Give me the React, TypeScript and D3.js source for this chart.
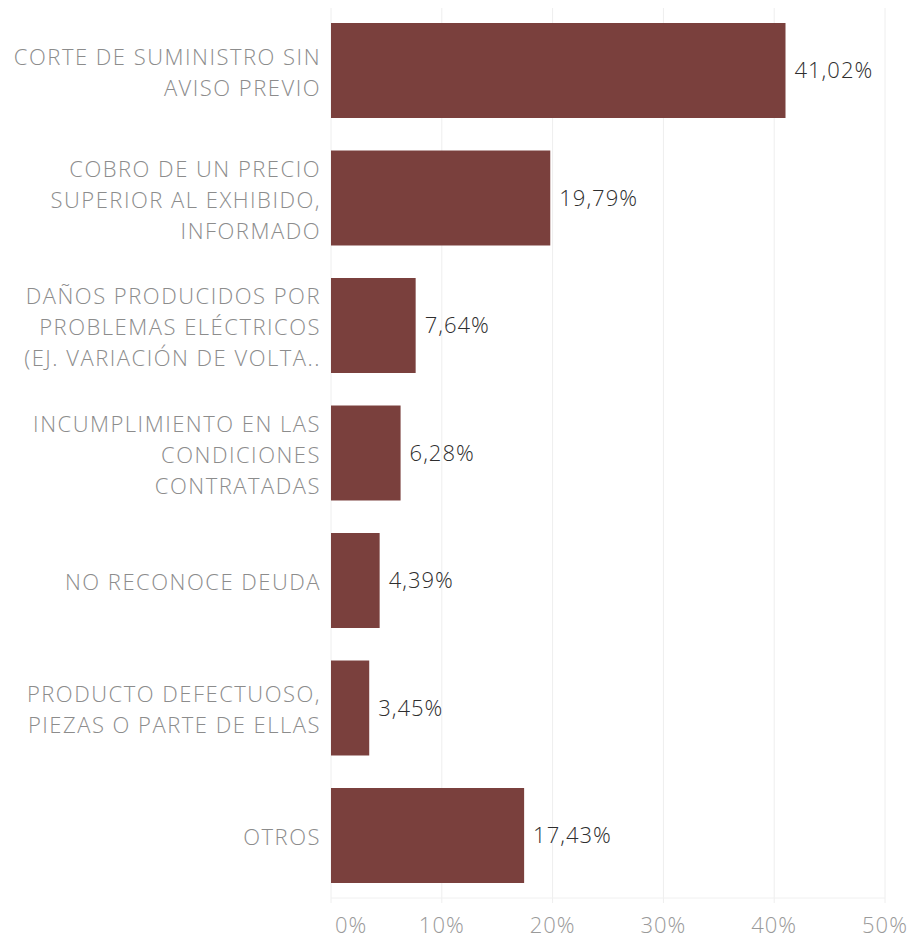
import React, { useEffect, useRef } from 'react';
import * as d3 from 'd3';

// category labels, already broken into the lines shown in the chart
const categories = [
  ['CORTE DE SUMINISTRO SIN', 'AVISO PREVIO'],
  ['COBRO DE UN PRECIO', 'SUPERIOR AL EXHIBIDO,', 'INFORMADO'],
  ['DAÑOS PRODUCIDOS POR', 'PROBLEMAS ELÉCTRICOS', '(EJ. VARIACIÓN DE VOLTA..'],
  ['INCUMPLIMIENTO EN LAS', 'CONDICIONES', 'CONTRATADAS'],
  ['NO RECONOCE DEUDA'],
  ['PRODUCTO DEFECTUOSO,', 'PIEZAS O PARTE DE ELLAS'],
  ['OTROS'],
];
const values = [0.4102, 0.1979, 0.0764, 0.0628, 0.0439, 0.0345, 0.1743];
const ticks = [0, 0.1, 0.2, 0.3, 0.4, 0.5];

const App: React.FC = () => {
  const svgRef = useRef<SVGSVGElement>(null);

  useEffect(() => {
    if (!svgRef.current) return;
    const width = 913;
    const height = 940;
    const font = '"Open Sans", sans-serif';

    const svg = d3.select(svgRef.current)
      .attr('width', width)
      .attr('height', height)
      .html('');

    const keys = categories.map((_, i) => String(i));

    const x = d3.scaleLinear().domain([0, 0.5]).range([331, 885]);
    const y = d3.scaleBand()
      .domain(keys)
      .range([6.75, 899.25])
      .paddingInner(0.255)
      .paddingOuter(0.1275);

    const fmt = (v: number) => (v * 100).toFixed(2).replace('.', ',') + '%';

    // gridlines
    svg.append('g')
      .selectAll('line')
      .data(ticks)
      .join('line')
      .attr('x1', d => x(d))
      .attr('x2', d => x(d))
      .attr('y1', 8)
      .attr('y2', 903)
      .style('stroke', '#eeeeee')
      .style('stroke-width', 1);

    svg.append('line')
      .attr('x1', x(0))
      .attr('x2', x(0.5))
      .attr('y1', 898)
      .attr('y2', 898)
      .style('stroke', '#f0f0f0');

    // bars
    svg.append('g')
      .selectAll('rect')
      .data(values)
      .join('rect')
      .attr('x', x(0))
      .attr('y', (_, i) => y(keys[i])!)
      .attr('width', d => x(d) - x(0))
      .attr('height', y.bandwidth())
      .style('fill', '#7a403d');

    // value labels
    svg.append('g')
      .selectAll('text')
      .data(values)
      .join('text')
      .attr('x', d => x(d) + 9)
      .attr('y', (_, i) => y(keys[i])! + y.bandwidth() / 2)
      .attr('dy', '0.36em')
      .style('font-family', font)
      .style('font-size', '22px')
      .style('font-weight', 300)
      .style('letter-spacing', '1px')
      .style('fill', '#2e2e2e')
      .text(d => fmt(d));

    // category labels
    const lineH = 31;
    const lab = svg.append('g');
    categories.forEach((lines, i) => {
      const cy = y(keys[i])! + y.bandwidth() / 2 + 2;
      const t = lab.append('text')
        .attr('text-anchor', 'end')
        .style('font-family', font)
        .style('font-size', '22px')
        .style('font-weight', 300)
        .style('letter-spacing', '1.5px')
        .style('fill', '#8c8c8c');
      lines.forEach((ln, j) => {
        t.append('tspan')
          .attr('x', 321)
          .attr('y', cy + (j - (lines.length - 1) / 2) * lineH)
          .attr('dy', '0.36em')
          .text(ln);
      });
    });

    // x tick labels
    svg.append('g')
      .selectAll('text')
      .data(ticks)
      .join('text')
      .attr('x', d => (d === 0 ? x(d) + 4 : x(d)))
      .attr('y', 933)
      .attr('text-anchor', d => (d === 0 ? 'start' : 'middle'))
      .style('font-family', font)
      .style('font-size', '22px')
      .style('font-weight', 300)
      .style('letter-spacing', '1px')
      .style('fill', '#9a9a9a')
      .text(d => `${Math.round(d * 100)}%`);
  }, []);

  return <svg ref={svgRef} style={{ position: 'absolute', left: 0, top: 0, background: '#fff' }} />;
};

export default App;
